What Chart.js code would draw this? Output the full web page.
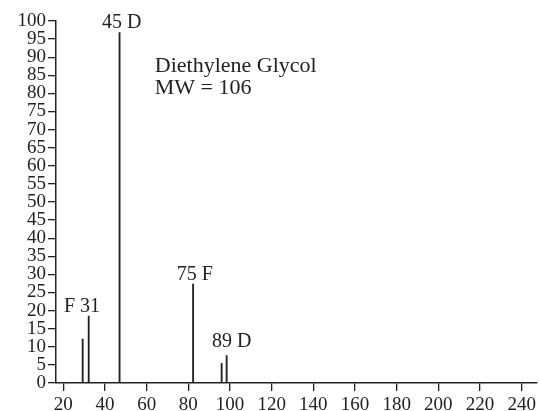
<!DOCTYPE html>
<html>
<head>
<meta charset="utf-8">
<script src="https://cdn.jsdelivr.net/npm/chart.js@4"></script>
<style>
  html, body { margin: 0; padding: 0; background: #fff; }
  #wrap { width: 539px; height: 411px; }
</style>
</head>
<body>
<div id="wrap"><canvas id="grafico" width="539" height="411"></canvas></div>
<script>
// m/z and relative abundance of each peak
const massas = [29.3, 32.2, 47, 82.3, 96.0, 98.4];
const intensidades = [12.1, 18.5, 96.8, 27.3, 5.4, 7.6];

// peak labels (text, x centre in m/z, baseline in %)
const rotulos = ['45 D', 'F 31', '75 F', '89 D'];
const rotuloX = [48.1, 29.0, 83.1, 100.8];
const rotuloY = [98.0, 19.5, 28.4, 9.9];

const titulo = ['Diethylene Glycol', 'MW = 106'];
const tituloX = 63.9;
const tituloY = [85.9, 79.9];

const xTicks = [20, 40, 60, 80, 100, 120, 140, 160, 180, 200, 220, 240];
const yTicks = [0, 5, 10, 15, 20, 25, 30, 35, 40, 45, 50, 55, 60, 65, 70, 75, 80, 85, 90, 95, 100];

const cor = '#222';
const fonte = 'Liberation Serif';

const textos = {
    id: 'textos',
    afterDatasetsDraw(chart) {
        const ctx = chart.ctx;
        const sx = chart.scales.x, sy = chart.scales.y;
        ctx.save();
        ctx.fillStyle = cor;
        ctx.textBaseline = 'alphabetic';
        ctx.font = '20px "' + fonte + '"';
        ctx.textAlign = 'center';
        rotulos.forEach((t, i) => {
            ctx.fillText(t, sx.getPixelForValue(rotuloX[i]), sy.getPixelForValue(rotuloY[i]));
        });
        ctx.textAlign = 'left';
        ctx.font = '22px "' + fonte + '"';
        titulo.forEach((t, i) => {
            ctx.fillText(t, sx.getPixelForValue(tituloX), sy.getPixelForValue(tituloY[i]));
        });
        ctx.restore();
    }
};

const ctx = document.getElementById('grafico').getContext('2d');

let grafico = new Chart(ctx, {
    type: 'bar',
    data: {
        datasets: [{
            data: massas.map((m, i) => ({ x: m, y: intensidades[i] })),
            backgroundColor: cor,
            barThickness: 1.2
        }]
    },
    options: {
        responsive: false,
        animation: false,
        layout: { padding: { top: 21, right: 2, left: 0, bottom: 0 } },
        plugins: { legend: { display: false }, tooltip: { enabled: false } },
        scales: {
            x: {
                type: 'linear',
                min: 16.5,
                max: 247,
                offset: false,
                afterBuildTicks: s => { s.ticks = xTicks.map(v => ({ value: v })); },
                afterFit: s => { s.height = 28; },
                grid: { drawOnChartArea: false, offset: false, color: cor, tickLength: 8, lineWidth: 1.3 },
                border: { color: cor, width: 1.5 },
                ticks: { color: cor, font: { family: fonte, size: 19 }, padding: 3, maxRotation: 0, autoSkip: false }
            },
            y: {
                min: 0,
                max: 100,
                afterBuildTicks: s => { s.ticks = yTicks.map(v => ({ value: v })); },
                afterFit: s => { s.width = 56; },
                grid: { drawOnChartArea: false, color: cor, tickLength: 8, lineWidth: 1.3 },
                border: { color: cor, width: 1.5 },
                ticks: { color: cor, font: { family: fonte, size: 19, lineHeight: 1 }, padding: 2, autoSkip: false }
            }
        }
    },
    plugins: [textos]
});
</script>
</body>
</html>
